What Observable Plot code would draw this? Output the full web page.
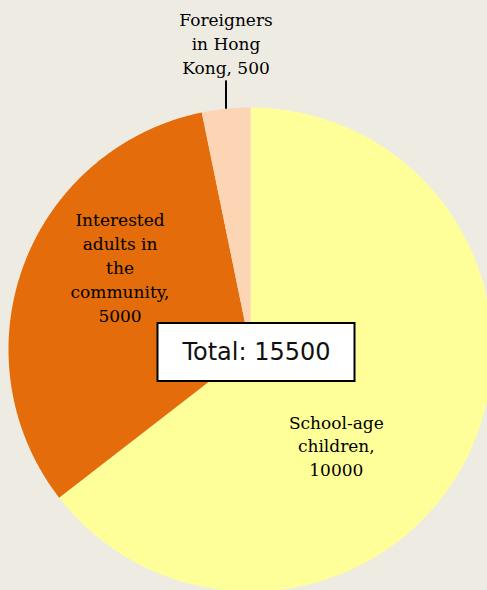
<!DOCTYPE html>
<html>
<head>
<meta charset="utf-8">
<script src="https://cdn.jsdelivr.net/npm/d3@7"></script>
<script src="https://cdn.jsdelivr.net/npm/@observablehq/plot@0.6"></script>
<style>
  html, body { margin: 0; padding: 0; background: #eeece2; overflow: hidden; }
  #chart svg { display: block; background: #eeece2; }
</style>
</head>
<body>
<div id="chart"></div>
<script>
// ---- data ----
const categories = ["School-age children", "Interested adults in the community", "Foreigners in Hong Kong"];
const values = [10000, 5000, 500];
const labels = ["School-age\nchildren,\n10000", "Interested\nadults in\nthe\ncommunity,\n5000", "Foreigners\nin Hong\nKong, 500"];
const colors = ["#ffff99", "#e46c0a", "#fcd5b5"];
const totalLabel = "Total: " + d3.sum(values);

// ---- layout (chart units: radius = 1) ----
const W = 487, H = 590;
const R = 242, CX = 250, CY = 349;           // pixel geometry of the pie
const labelPlacement = [                      // polar placement of inside labels (deg clockwise from top, radius fraction)
  {angle: 138, r: 0.53},
  {angle: 302.6, r: 0.64},
  {angle: null, r: 1.25}                      // outside label, placed at slice middle
];

const total = d3.sum(values);
const toRad = d => d * Math.PI / 180;
let acc = 0;
const slices = categories.map((c, i) => {
  const a0 = acc / total * 2 * Math.PI;
  acc += values[i];
  const a1 = acc / total * 2 * Math.PI;
  return {category: c, value: values[i], color: colors[i], label: labels[i], a0, a1, mid: (a0 + a1) / 2};
});

// polygon outline for each slice (circle sampling)
const pts = [];
slices.forEach(s => {
  pts.push({category: s.category, color: s.color, x: 0, y: 0});
  const n = Math.max(4, Math.ceil((s.a1 - s.a0) / 0.005));
  for (let k = 0; k <= n; k++) {
    const t = s.a0 + (s.a1 - s.a0) * k / n;
    pts.push({category: s.category, color: s.color, x: Math.sin(t), y: Math.cos(t)});
  }
  pts.push({category: s.category, color: s.color, x: 0, y: 0});
});

const labelData = slices.map((s, i) => {
  const p = labelPlacement[i];
  const a = p.angle == null ? s.mid : toRad(p.angle);
  return {label: s.label, x: Math.sin(a) * p.r, y: Math.cos(a) * p.r};
});
// outside label: place block above the leader line
const f = slices[2];
labelData[2] = {label: f.label, x: Math.sin(f.mid), y: 1.268};
const leader = [{x1: Math.sin(f.mid), y1: Math.cos(f.mid), x2: Math.sin(f.mid), y2: 1.112}];

const boxHalfW = 98.5 / R, boxHalfH = 29 / R;
const boxC = {x: 6 / R, y: -3 / R};
const box = [{x1: boxC.x - boxHalfW, x2: boxC.x + boxHalfW, y1: boxC.y - boxHalfH, y2: boxC.y + boxHalfH, label: totalLabel}];

const plot = Plot.plot({
  width: W, height: H,
  margin: 0,
  x: {domain: [-CX / R, (W - CX) / R], axis: null},
  y: {domain: [(CY - H) / R, CY / R], axis: null},
  style: {background: "#eeece2"},
  marks: [
    Plot.line(pts, {x: "x", y: "y", z: "category", fill: "color", stroke: "none", curve: "linear"}),
    Plot.link(leader, {x1: "x1", y1: "y1", x2: "x2", y2: "y2", stroke: "black", strokeWidth: 2}),
    Plot.text(labelData, {x: "x", y: "y", text: "label", fontFamily: "DejaVu Serif", fontSize: 17, lineHeight: 1.41, lineAnchor: "middle", fill: "#000"}),
    Plot.rect(box, {x1: "x1", x2: "x2", y1: "y1", y2: "y2", fill: "white", stroke: "black", strokeWidth: 2}),
    Plot.text(box, {x: d => (d.x1 + d.x2) / 2, y: d => (d.y1 + d.y2) / 2, text: "label", fontFamily: "DejaVu Sans", fontSize: 24, fill: "#111", lineAnchor: "middle"})
  ]
});
document.getElementById("chart").appendChild(plot);
</script>
</body>
</html>
